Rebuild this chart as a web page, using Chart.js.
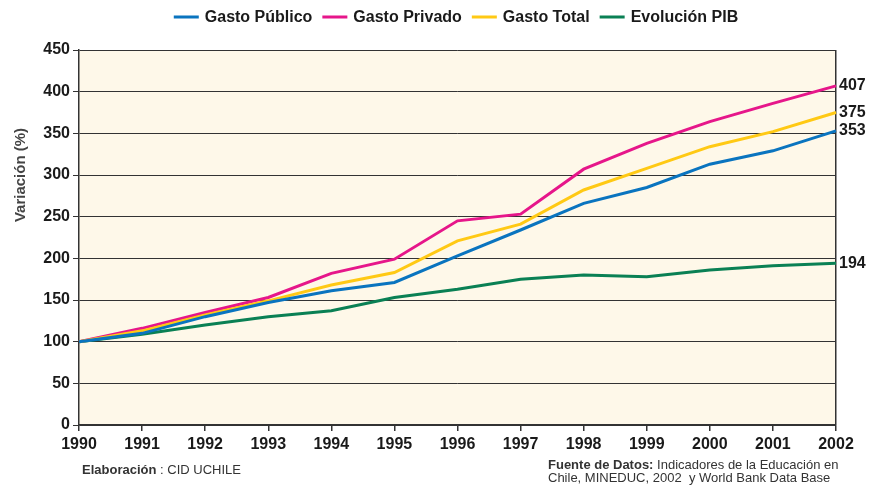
<!DOCTYPE html>
<html>
<head>
<meta charset="utf-8">
<script src="https://cdn.jsdelivr.net/npm/chart.js@4.4.1/dist/chart.umd.min.js"></script>
<style>
html,body{margin:0;padding:0;background:#ffffff;}
#wrap{width:882px;height:485px;position:relative;}
</style>
</head>
<body>
<div id="wrap"><canvas id="c" width="882" height="485"></canvas></div>
<script>
const years = ['1990','1991','1992','1993','1994','1995','1996','1997','1998','1999','2000','2001','2002'];
const gastoPublico = [100,110,130,147,161,171,203,234,266,285,313,329,353];
const gastoPrivado = [100,116,135,153,182,199,245,253,307,338,364,386,407];
const gastoTotal   = [100,113,132,149,168,183,221,241,282,308,334,352,375];
const evolucionPIB = [100,109,120,130,137,153,163,175,180,178,186,191,194];
const seriesNames = ['Gasto Público','Gasto Privado','Gasto Total','Evolución PIB'];
const seriesColors = ['#0a74bf','#e6168a','#ffc914','#0a8054'];
const yTicks = [0,50,100,150,200,250,300,350,400,450];
const yTitle = 'Variación (%)';
const noteLeftBold = 'Elaboración';
const noteLeft = ' : CID UCHILE';
const noteRightBold = 'Fuente de Datos:';
const noteRight1 = ' Indicadores de la Educación en';
const noteRight2 = 'Chile, MINEDUC, 2002  y World Bank Data Base';

const FONT = '"Liberation Sans", Arial, sans-serif';

const extras = {
  id: 'extras',
  beforeDraw(chart) {
    const {ctx, chartArea: a} = chart;
    ctx.save();
    ctx.fillStyle = '#fef8e9';
    ctx.fillRect(a.left, a.top, a.right - a.left, a.bottom - a.top);
    ctx.restore();
  },
  afterDatasetsDraw(chart) {
    const {ctx, chartArea: a} = chart;
    const y = chart.scales.y;
    ctx.save();
    // end labels
    ctx.font = 'bold 16px ' + FONT;
    ctx.fillStyle = '#1a1a1a';
    ctx.textBaseline = 'middle';
    ctx.textAlign = 'left';
    chart.data.datasets.forEach(ds => {
      const v = ds.data[ds.data.length - 1];
      ctx.fillText(String(v), a.right + 3, y.getPixelForValue(v));
    });
    // legend
    ctx.font = 'bold 16px ' + FONT;
    const lineW = 25, gap1 = 6, gap2 = 10;
    let total = 0;
    const widths = seriesNames.map(n => ctx.measureText(n).width);
    widths.forEach((w, i) => { total += lineW + gap1 + w + (i < widths.length - 1 ? gap2 : 0); });
    let x = 456 - total / 2;
    const ly = 17;
    seriesNames.forEach((n, i) => {
      ctx.fillStyle = seriesColors[i];
      ctx.fillRect(x, ly - 1.5, lineW, 3);
      x += lineW + gap1;
      ctx.fillStyle = '#1a1a1a';
      ctx.fillText(n, x, ly + 1);
      x += widths[i] + gap2;
    });
    // y title
    ctx.save();
    ctx.translate(21, 175);
    ctx.rotate(-Math.PI / 2);
    ctx.textAlign = 'center';
    ctx.font = 'bold 15px ' + FONT;
    ctx.fillStyle = '#444';
    ctx.fillText(yTitle, 0, 0);
    ctx.restore();
    // notes
    ctx.textAlign = 'left';
    ctx.fillStyle = '#333';
    ctx.font = 'bold 13px ' + FONT;
    ctx.fillText(noteLeftBold, 82, 470);
    let w = ctx.measureText(noteLeftBold).width;
    ctx.font = '13px ' + FONT;
    ctx.fillText(noteLeft, 82 + w, 470);
    ctx.font = 'bold 13px ' + FONT;
    ctx.fillText(noteRightBold, 548, 465);
    w = ctx.measureText(noteRightBold).width;
    ctx.font = '13px ' + FONT;
    ctx.fillText(noteRight1, 548 + w, 465);
    ctx.fillText(noteRight2, 548, 478);
    ctx.restore();
  }
};

const mk = (label, data, color, order) => ({
  label, data, borderColor: color, backgroundColor: color,
  borderWidth: 3, pointRadius: 0, tension: 0, fill: false, order
});

new Chart(document.getElementById('c'), {
  type: 'line',
  data: {
    labels: years,
    datasets: [
      mk(seriesNames[0], gastoPublico, seriesColors[0], 0),
      mk(seriesNames[1], gastoPrivado, seriesColors[1], 2),
      mk(seriesNames[2], gastoTotal, seriesColors[2], 1),
      mk(seriesNames[3], evolucionPIB, seriesColors[3], 3)
    ]
  },
  options: {
    responsive: false,
    animation: false,
    layout: { padding: { left: 0, right: 46, top: 50, bottom: 0 } },
    plugins: { legend: { display: false }, tooltip: { enabled: false } },
    scales: {
      x: {
        offset: false,
        afterFit(s) { s.height = 60; },
        border: { display: true, color: '#333', width: 1.5 },
        grid: {
          offset: false,
          drawOnChartArea: true,
          color: c => (c.index === years.length - 1 ? '#333' : 'rgba(0,0,0,0)'),
          tickColor: '#333',
          tickLength: 6,
          lineWidth: 1.5
        },
        ticks: {
          font: { family: FONT, size: 16, weight: 'bold' },
          color: '#1a1a1a', padding: 4, maxRotation: 0, autoSkip: false
        }
      },
      y: {
        min: 0, max: 450,
        afterFit(s) { s.width = 79; },
        afterBuildTicks(s) { s.ticks = yTicks.map(v => ({ value: v })); },
        border: { display: true, color: '#333', width: 1.5 },
        grid: { color: '#333', lineWidth: 1, tickColor: '#333', tickLength: 6 },
        ticks: {
          font: { family: FONT, size: 16, weight: 'bold' },
          color: '#1a1a1a', padding: 3
        }
      }
    }
  },
  plugins: [extras]
});
</script>
</body>
</html>
